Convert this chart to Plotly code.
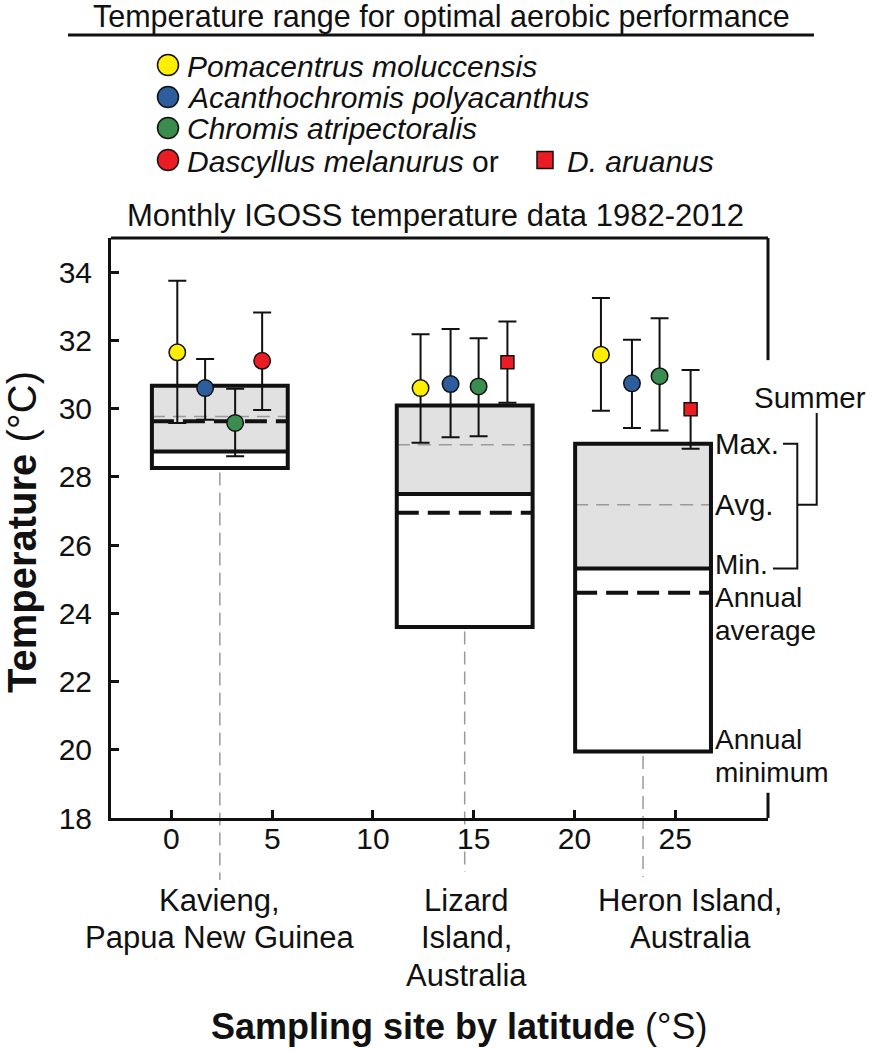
import plotly.graph_objects as go

# ---------------- data ----------------
sites = ["Kavieng", "Lizard Island", "Heron Island"]
site_lat = [2.4, 14.55, 23.4]
summer_max = [30.67, 30.09, 28.97]
summer_avg = [29.77, 28.94, 27.18]
summer_min = [28.74, 27.50, 25.31]
annual_avg = [29.63, 26.95, 24.60]
annual_min = [28.26, 23.60, 19.95]

species = ["Pomacentrus moluccensis", "Acanthochromis polyacanthus",
           "Chromis atripectoralis", "Dascyllus melanurus / D. aruanus"]
species_x = [
    [0.29, 12.36, 21.31],
    [1.67, 13.85, 22.85],
    [3.16, 15.24, 24.22],
    [4.50, 16.67, 25.76],
]
topt = [
    [31.65, 30.60, 31.58],
    [30.60, 30.72, 30.74],
    [29.58, 30.65, 30.95],
    [31.40, 31.36, 29.98],
]
t_upper = [
    [33.75, 32.18, 33.24],
    [31.45, 32.33, 32.02],
    [30.58, 32.06, 32.65],
    [32.82, 32.55, 31.13],
]
t_lower = [
    [29.58, 29.00, 29.94],
    [29.67, 29.16, 29.43],
    [28.60, 29.19, 29.36],
    [29.96, 30.17, 28.82],
]
species_symbol = [
    ["circle"] * 3,
    ["circle"] * 3,
    ["circle"] * 3,
    ["circle", "square", "square"],
]
species_color = ["#ffee00", "#2e5d9e", "#3a8d4f", "#ec1c24"]

x_ticks = [0, 5, 10, 15, 20, 25]
y_ticks = [18, 20, 22, 24, 26, 28, 30, 32, 34]

# ---------------- layout geometry ----------------
W, H = 874, 1050
L, R, T, B = 111, 106, 238, 232
PW, PH = W - L - R, H - T - B
FONT = "Liberation Sans, Arial, sans-serif"
BOX_HALF = 3.37


def px(xp):
    return (xp - L) / PW


def py(yp):
    return (H - B - yp) / PH


def yd(v):
    return (v - 18) / 17


fig = go.Figure()

# species points with error bars
for k in range(4):
    for i in range(3):
        size = 16.5 if species_symbol[k][i] == "circle" else 13
        fig.add_trace(go.Scatter(
            x=[species_x[k][i]], y=[topt[k][i]],
            mode="markers",
            marker=dict(symbol=species_symbol[k][i], size=size, color=species_color[k],
                        line=dict(color="#111111", width=1.5)),
            error_y=dict(type="data", symmetric=False,
                         array=[t_upper[k][i] - topt[k][i]],
                         arrayminus=[topt[k][i] - t_lower[k][i]],
                         color="#111111", thickness=2, width=9),
            showlegend=False, hoverinfo="skip",
        ))

shapes = []
for i in range(3):
    x0, x1 = site_lat[i] - BOX_HALF, site_lat[i] + BOX_HALF
    shapes.append(dict(type="rect", xref="x", yref="y", x0=x0, x1=x1,
                       y0=summer_min[i], y1=summer_max[i],
                       fillcolor="#e1e1e1", line=dict(width=0), layer="below"))
    shapes.append(dict(type="line", xref="x", yref="y", x0=x0, x1=x1,
                       y0=summer_avg[i], y1=summer_avg[i],
                       line=dict(color="#9a9a9a", width=1.5, dash="13px,8px"), layer="below"))
    shapes.append(dict(type="line", xref="x", yref="y", x0=x0, x1=x1,
                       y0=annual_avg[i], y1=annual_avg[i],
                       line=dict(color="#111111", width=4, dash="22px,9px"), layer="below"))
    shapes.append(dict(type="line", xref="x", yref="y", x0=x0, x1=x1,
                       y0=summer_min[i], y1=summer_min[i],
                       line=dict(color="#111111", width=4), layer="below"))
    shapes.append(dict(type="rect", xref="x", yref="y", x0=x0, x1=x1,
                       y0=annual_min[i], y1=summer_max[i],
                       line=dict(color="#111111", width=4), layer="below"))

# site vertical dashed lines (extend below the axis)
line_end_px = [880, 872, 877]
for i in range(3):
    shapes.append(dict(type="line", xref="x", yref="paper",
                       x0=site_lat[i], x1=site_lat[i],
                       y0=yd(annual_min[i]) - 0.008, y1=py(line_end_px[i]),
                       line=dict(color="#9a9a9a", width=1.5, dash="13px,7px"), layer="below"))

# frame: top and broken right spine
shapes.append(dict(type="line", xref="paper", yref="paper", x0=0, x1=1, y0=1, y1=1,
                   line=dict(color="#111111", width=3)))
shapes.append(dict(type="line", xref="paper", yref="paper", x0=1, x1=1, y0=1, y1=yd(31.42),
                   line=dict(color="#111111", width=3)))
shapes.append(dict(type="line", xref="paper", yref="paper", x0=1, x1=1, y0=0, y1=yd(18.74),
                   line=dict(color="#111111", width=3)))

# bracket for summer max/avg/min labels (tied to Heron Island values)
bx = px(797.3)
shapes.append(dict(type="path", xref="paper", yref="paper",
                   path=f"M {px(783)},{yd(summer_max[2])} L {bx},{yd(summer_max[2])} "
                        f"L {bx},{yd(summer_min[2])} L {px(773)},{yd(summer_min[2])}",
                   line=dict(color="#111111", width=2)))
shapes.append(dict(type="path", xref="paper", yref="paper",
                   path=f"M {bx},{yd(summer_avg[2])} L {px(816.7)},{yd(summer_avg[2])} "
                        f"L {px(816.7)},{py(413)}",
                   line=dict(color="#111111", width=2)))

# top title underline
shapes.append(dict(type="line", xref="paper", yref="paper", x0=px(68), x1=px(814),
                   y0=py(35), y1=py(35), line=dict(color="#111111", width=3)))

# legend symbols
legend_y = [65, 97, 128, 160]
for k in range(4):
    shapes.append(dict(type="circle", xref="paper", yref="paper",
                       xsizemode="pixel", ysizemode="pixel",
                       xanchor=px(168), yanchor=py(legend_y[k]),
                       x0=-10.5, x1=10.5, y0=-10.5, y1=10.5,
                       fillcolor=species_color[k], line=dict(color="#111111", width=1.5)))
shapes.append(dict(type="rect", xref="paper", yref="paper",
                   xsizemode="pixel", ysizemode="pixel",
                   xanchor=px(545), yanchor=py(legend_y[3]),
                   x0=-8, x1=8, y0=-8.5, y1=8.5,
                   fillcolor=species_color[3], line=dict(color="#111111", width=1.5)))

ann = []


def text(x, y, s, size, xanchor="center", yanchor="middle", xref="paper", yref="paper",
         angle=0, yshift=0):
    ann.append(dict(x=x, y=y, xref=xref, yref=yref, text=s, showarrow=False,
                    xanchor=xanchor, yanchor=yanchor, textangle=angle, yshift=yshift,
                    font=dict(family=FONT, size=size, color="#111111")))


text(px(441), py(17), "Temperature range for optimal aerobic performance", 30.5)
legend_text = ["<i>Pomacentrus moluccensis</i>", "<i>Acanthochromis polyacanthus</i>",
               "<i>Chromis atripectoralis</i>", "<i>Dascyllus melanurus</i> or"]
for k in range(4):
    text(px(185), py(legend_y[k] + 1), legend_text[k], 30, xanchor="left")
text(px(565), py(legend_y[3] + 1), "<i>D. aruanus</i>", 30, xanchor="left")

text(px(435), py(215), "Monthly IGOSS temperature data 1982-2012", 31)

# right-hand annotations
RS = 29.5
RS2 = 28
text(px(752), py(397), "Summer", RS, xanchor="left")
text(px(713), summer_max[2], "Max.", RS, xanchor="left", yref="y")
text(px(713), summer_avg[2], "Avg.", RS, xanchor="left", yref="y")
text(px(713), summer_min[2], "Min.", RS2, xanchor="left", yref="y", yshift=4.5)
text(px(713), annual_avg[2], "Annual", RS2, xanchor="left", yref="y", yshift=-4.5)
text(px(713), annual_avg[2], "average", RS2, xanchor="left", yref="y", yshift=-37.5)
text(px(713), annual_min[2], "Annual", RS2, xanchor="left", yref="y", yshift=11.5)
text(px(713), annual_min[2], "minimum", RS2, xanchor="left", yref="y", yshift=-21.5)

# site labels
site_label_lines = [["Kavieng,", "Papua New Guinea"],
                    ["Lizard", "Island,", "Australia"],
                    ["Heron Island,", "Australia"]]
site_label_x = [219.6, 466, 690]
line_y = [900, 937, 975]
for i in range(3):
    for j, s in enumerate(site_label_lines[i]):
        text(px(site_label_x[i]), py(line_y[j]), s, 31)

# axis titles
text(px(459), py(1026), "<b>Sampling site by latitude</b> (°S)", 36)
text(px(22), py(532), "<b>Temperature</b> (°C)", 40, angle=-90)

fig.update_layout(
    width=W, height=H,
    margin=dict(l=L, r=R, t=T, b=B, pad=0),
    paper_bgcolor="white", plot_bgcolor="white",
    showlegend=False,
    shapes=shapes, annotations=ann,
    font=dict(family=FONT, color="#111111"),
    xaxis=dict(range=[-3, 29.6], tickvals=x_ticks, ticks="inside", ticklen=8, tickwidth=3,
               tickcolor="#111111", showline=True, linewidth=3, linecolor="#111111",
               showgrid=False, zeroline=False, tickfont=dict(size=30, family=FONT),
               ticklabelstandoff=-8),
    yaxis=dict(range=[18, 35], tickvals=y_ticks, ticks="inside", ticklen=8, tickwidth=3,
               tickcolor="#111111", showline=True, linewidth=3, linecolor="#111111",
               showgrid=False, zeroline=False, tickfont=dict(size=30, family=FONT),
               ticklabelstandoff=10),
)

fig.write_html("out.html", config={"displayModeBar": False},
               post_script="document.body.style.margin='0';")
